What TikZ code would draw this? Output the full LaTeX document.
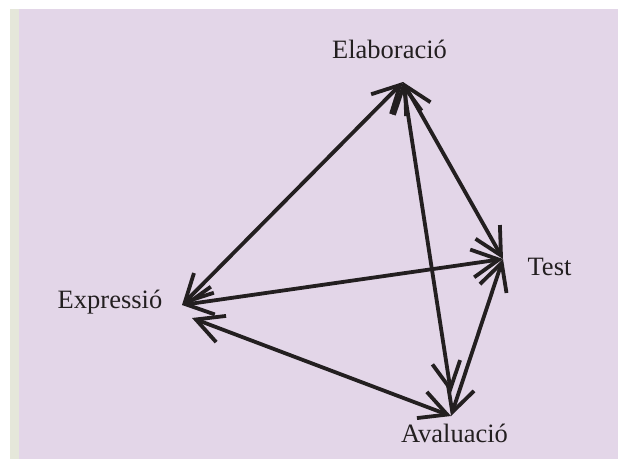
\documentclass[tikz,border=0pt]{standalone}
\usepackage{fontspec}
\setmainfont{Liberation Serif}
\usetikzlibrary{arrows.meta}
\definecolor{bgpurple}{RGB}{227,214,232}
\definecolor{bgstrip}{RGB}{229,231,218}
\definecolor{inkc}{RGB}{35,31,32}
\tikzset{
  lbl/.style={anchor=base, inner sep=0pt, text=inkc, font=\fontsize{26.5}{30}\selectfont},
  link/.style={draw=inkc, line width=3.8pt, {Straight Barb[length=27pt,width=28pt]}-{Straight Barb[length=27pt,width=28pt]}}
}
\begin{document}
\begin{tikzpicture}[x=1pt,y=-1pt]
\useasboundingbox (0,0) rectangle (618,459);
\fill[white] (0,0) rectangle (618,459);
\fill[bgstrip] (10,9) rectangle (19,459);
\fill[bgpurple] (19,9) rectangle (618,459);
% labels
\node[lbl] (elab) at (389.5,58) {Elaboració};
\node[lbl] (expr) at (110,308) {Expressió};
\node[lbl] (test) at (549.5,275) {Test};
\node[lbl] (aval) at (454.5,442) {Avaluació};
% arrow end points
\coordinate (E) at (403,82);
\coordinate (X1) at (182,305);
\coordinate (X2) at (192,318);
\coordinate (T) at (503,259);
\coordinate (A1) at (451,393);
\coordinate (A2) at (451,416);
% connectors
\draw[link] (E) -- (X1);
\draw[link] (E) -- (T);
\draw[link] (E) -- (A1);
\draw[link] (T) -- (X1);
\draw[link] (T) -- (A2);
\draw[link] (X2) -- (A2);
\end{tikzpicture}
\end{document}
